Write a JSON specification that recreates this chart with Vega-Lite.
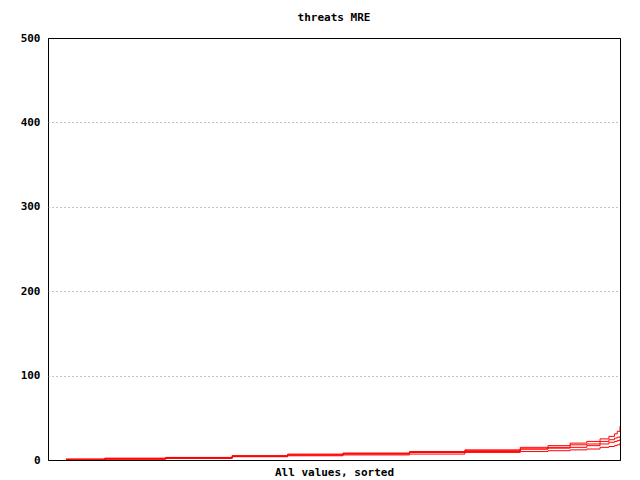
{
  "$schema": "https://vega.github.io/schema/vega-lite/v6.json",
  "width": 572,
  "height": 422,
  "autosize": {"type": "none"},
  "padding": {"left": 48, "top": 38, "right": 20, "bottom": 20},
  "background": "white",
  "title": {"text": "threats MRE", "font": "DejaVu Sans Mono", "fontSize": 11, "fontWeight": "bold", "color": "black", "offset": 9, "anchor": "middle"},
  "config": {
    "view": {"stroke": "black", "strokeWidth": 1},
    "axis": {"labelFont": "DejaVu Sans Mono", "titleFont": "DejaVu Sans Mono", "labelFontSize": 11, "titleFontSize": 11, "labelColor": "black", "titleColor": "black", "labelFontWeight": "bold", "titleFontWeight": "bold"}
  },
  "data": {"values": [
    {"s": "A", "r": 0, "v": 1}, {"s": "A", "r": 7, "v": 2}, {"s": "A", "r": 18, "v": 3}, {"s": "A", "r": 30, "v": 5}, {"s": "A", "r": 40, "v": 7}, {"s": "A", "r": 50, "v": 8}, {"s": "A", "r": 62, "v": 10}, {"s": "A", "r": 72, "v": 12}, {"s": "A", "r": 82, "v": 15}, {"s": "A", "r": 87, "v": 17}, {"s": "A", "r": 91, "v": 20}, {"s": "A", "r": 94, "v": 22}, {"s": "A", "r": 96.4, "v": 25}, {"s": "A", "r": 98, "v": 28}, {"s": "A", "r": 99, "v": 31}, {"s": "A", "r": 99.5, "v": 34}, {"s": "A", "r": 100, "v": 40},
    {"s": "B", "r": 0, "v": 1}, {"s": "B", "r": 7, "v": 2}, {"s": "B", "r": 18, "v": 3}, {"s": "B", "r": 30, "v": 5}, {"s": "B", "r": 40, "v": 6}, {"s": "B", "r": 50, "v": 8}, {"s": "B", "r": 62, "v": 9}, {"s": "B", "r": 72, "v": 11}, {"s": "B", "r": 82, "v": 13}, {"s": "B", "r": 87, "v": 15}, {"s": "B", "r": 91, "v": 18}, {"s": "B", "r": 94, "v": 19}, {"s": "B", "r": 96.4, "v": 22}, {"s": "B", "r": 98, "v": 24}, {"s": "B", "r": 99, "v": 26}, {"s": "B", "r": 99.5, "v": 27}, {"s": "B", "r": 100, "v": 28},
    {"s": "C", "r": 0, "v": 0}, {"s": "C", "r": 7, "v": 1}, {"s": "C", "r": 18, "v": 2}, {"s": "C", "r": 30, "v": 4}, {"s": "C", "r": 40, "v": 6}, {"s": "C", "r": 50, "v": 7}, {"s": "C", "r": 62, "v": 9}, {"s": "C", "r": 72, "v": 10}, {"s": "C", "r": 82, "v": 13}, {"s": "C", "r": 87, "v": 14}, {"s": "C", "r": 91, "v": 15}, {"s": "C", "r": 94, "v": 17}, {"s": "C", "r": 96.4, "v": 19}, {"s": "C", "r": 98, "v": 21}, {"s": "C", "r": 99, "v": 22}, {"s": "C", "r": 99.5, "v": 23}, {"s": "C", "r": 100, "v": 25},
    {"s": "D", "r": 0, "v": 0}, {"s": "D", "r": 7, "v": 1}, {"s": "D", "r": 18, "v": 2}, {"s": "D", "r": 30, "v": 4}, {"s": "D", "r": 40, "v": 5}, {"s": "D", "r": 50, "v": 6}, {"s": "D", "r": 62, "v": 7}, {"s": "D", "r": 72, "v": 9}, {"s": "D", "r": 82, "v": 10}, {"s": "D", "r": 87, "v": 11}, {"s": "D", "r": 91, "v": 12}, {"s": "D", "r": 94, "v": 13}, {"s": "D", "r": 96.4, "v": 15}, {"s": "D", "r": 98, "v": 16}, {"s": "D", "r": 99, "v": 17}, {"s": "D", "r": 99.5, "v": 18}, {"s": "D", "r": 100, "v": 20}
  ]},
  "mark": {"type": "line", "interpolate": "step-after", "strokeWidth": 1, "color": "#ff0000", "clip": true},
  "encoding": {
    "x": {"field": "r", "type": "quantitative", "scale": {"domain": [-3.25, 100], "nice": false, "zero": false},
      "axis": {"labels": false, "ticks": false, "grid": false, "domain": false, "title": "All values, sorted", "titlePadding": 6}},
    "y": {"field": "v", "type": "quantitative", "scale": {"domain": [0, 500], "nice": false},
      "axis": {"values": [0, 100, 200, 300, 400, 500], "title": null, "domain": false, "ticks": false, "labelPadding": 8, "grid": true,
        "gridDash": {"condition": {"test": "datum.value === 0 || datum.value === 500", "value": []}, "value": [1, 3]},
        "gridColor": {"condition": {"test": "datum.value === 0 || datum.value === 500", "value": "black"}, "value": "#888888"},
        "gridWidth": 1}},
    "detail": {"field": "s", "type": "nominal"}
  }
}
